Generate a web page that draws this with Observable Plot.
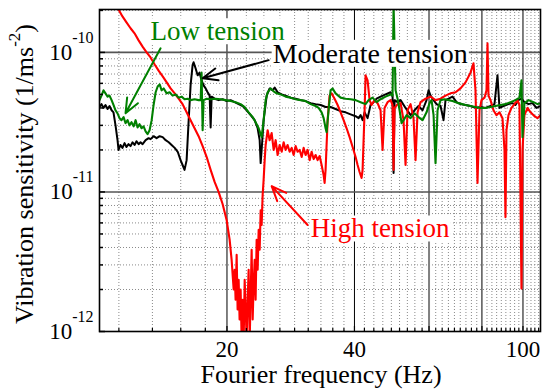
<!DOCTYPE html>
<html><head><meta charset="utf-8">
<script src="https://cdn.jsdelivr.net/npm/d3@7"></script>
<script src="https://cdn.jsdelivr.net/npm/@observablehq/plot@0.6"></script>
<style>
html,body{margin:0;padding:0;background:#fff;}
#chart svg, #chart svg text, #chart svg tspan { font-family: "Liberation Serif", "Times New Roman", serif !important; }
</style>
</head><body><div id="chart"></div>
<script>
// ---- Moderate tension (black) ----
const moderateFreq = [10.0,10.11,10.22,10.33,10.45,10.56,10.68,10.79,10.91,11.03,
11.09,11.21,11.33,11.46,11.58,11.71,11.84,11.97,12.10,12.23,
12.37,12.50,12.64,12.85,13.06,13.20,13.42,13.64,13.87,14.10,
14.33,14.57,14.80,15.05,15.30,15.54,15.71,15.88,16.06,16.24,
16.41,16.59,16.68,16.86,17.05,17.23,17.42,17.61,17.81,18.00,
18.20,18.30,18.40,18.70,19.11,19.53,19.96,20.40,20.85,21.31,
21.78,22.26,22.75,23.25,23.63,23.89,24.02,24.15,24.41,24.82,
25.22,25.64,25.92,26.34,26.93,27.51,28.27,29.05,29.85,30.67,
31.52,32.38,33.28,34.19,35.13,36.10,37.10,38.12,39.17,40.25,
40.91,41.36,41.81,42.27,42.96,43.66,44.38,45.11,46.10,47.37,
48.68,49.21,49.48,49.75,50.57,51.40,52.81,54.27,55.45,56.67,
57.93,59.20,59.85,60.50,61.50,62.50,63.88,64.93,65.63,66.73,
68.18,69.68,71.21,73.17,75.18,77.25,79.38,81.57,83.81,85.65,
87.06,88.0,89.95,92.43,94.45,96.0,97.59,99.19,100.8,103.1,
105.3,107.6,110];
const moderateVal = [4.06e-11,4.26e-11,4.0e-11,4.2e-11,3.93e-11,4.13e-11,3.85e-11,3.72e-11,3.0e-11,2.35e-11,
2.0e-11,2.17e-11,2.07e-11,2.24e-11,2.1e-11,2.2e-11,2.13e-11,2.27e-11,2.17e-11,2.31e-11,
2.2e-11,2.27e-11,2.2e-11,2.35e-11,2.43e-11,2.39e-11,2.51e-11,2.43e-11,2.51e-11,2.47e-11,
2.35e-11,2.27e-11,2.17e-11,2.07e-11,1.94e-11,1.69e-11,1.56e-11,1.44e-11,1.69e-11,3.27e-11,
5.8e-11,8.1e-11,8.5e-11,7.7e-11,6.85e-11,7.16e-11,6.3e-11,5.8e-11,5.52e-11,5.18e-11,
4.9e-11,2.9e-11,4.82e-11,4.66e-11,4.55e-11,4.62e-11,4.48e-11,4.55e-11,4.4e-11,4.26e-11,
4.13e-11,3.85e-11,3.55e-11,3.27e-11,2.86e-11,2.35e-11,1.61e-11,2.0e-11,3.27e-11,4.9e-11,
5.52e-11,5.35e-11,5.6e-11,5.18e-11,5.0e-11,4.9e-11,4.74e-11,4.66e-11,4.55e-11,4.48e-11,
4.33e-11,4.26e-11,4.2e-11,4.06e-11,4.06e-11,3.93e-11,3.79e-11,3.72e-11,3.6e-11,3.49e-11,
3.38e-11,3.55e-11,3.27e-11,3.72e-11,3.38e-11,4.2e-11,4.4e-11,4.66e-11,4.82e-11,5.0e-11,
5.18e-11,4.9e-11,1.37e-11,4.55e-11,4.4e-11,4.55e-11,4.0e-11,3.55e-11,3.85e-11,4.13e-11,
3.85e-11,4.55e-11,5.35e-11,4.9e-11,4.55e-11,4.26e-11,4.13e-11,3.27e-11,4.55e-11,4.66e-11,
4.82e-11,4.4e-11,4.26e-11,4.2e-11,4.13e-11,4.0e-11,4.06e-11,4.0e-11,4.13e-11,4.26e-11,
6.85e-11,4.0e-11,4.13e-11,4.26e-11,4.33e-11,4.2e-11,4.55e-11,4.66e-11,4.4e-11,4.26e-11,
4.33e-11,4.0e-11,4.13e-11];

// ---- Low tension (green) ----
const lowFreq = [10.0,10.11,10.22,10.33,10.45,10.56,10.68,10.79,10.91,11.03,
11.15,11.27,11.40,11.52,11.65,11.77,11.90,12.04,12.17,12.30,
12.43,12.57,12.71,12.85,12.99,13.13,13.28,13.42,13.57,13.72,
13.87,14.02,14.18,14.41,14.64,14.88,15.13,15.38,15.63,15.88,
16.15,16.41,16.77,17.14,17.33,17.42,17.52,17.61,17.91,18.30,
18.80,19.32,19.85,20.40,20.96,21.54,22.02,22.50,23.0,23.37,
23.76,24.15,24.41,24.68,24.95,25.36,25.78,26.20,26.78,27.51,
28.27,29.05,29.85,30.67,31.52,32.38,32.92,33.46,33.83,34.19,
34.38,34.75,35.13,35.52,36.10,37.10,38.12,39.17,40.25,41.36,
42.49,43.19,44.14,45.11,46.10,47.37,48.68,49.21,49.48,50.02,
50.57,51.12,51.68,52.24,53.1,54.27,55.45,56.67,57.93,59.20,
60.17,60.83,61.50,62.16,62.85,63.88,65.28,66.73,68.18,70.44,
73.17,75.18,77.25,79.38,81.57,83.81,86.12,88.49,90.93,93.43,
96.0,98.11,99.19,99.73,100.8,103.1,105.9,108.2,110];
const lowVal = [4.55e-11,4.9e-11,5.35e-11,5.09e-11,4.82e-11,4.9e-11,4.55e-11,4.2e-11,3.85e-11,3.66e-11,
3.38e-11,3.27e-11,3.44e-11,3.11e-11,3.27e-11,3.0e-11,3.16e-11,2.95e-11,3.27e-11,2.9e-11,
3.06e-11,2.86e-11,2.95e-11,2.72e-11,2.6e-11,2.77e-11,3.27e-11,4.2e-11,5.18e-11,5.7e-11,
5.9e-11,5.35e-11,5.52e-11,5.09e-11,5.18e-11,4.9e-11,5.0e-11,4.74e-11,4.82e-11,4.62e-11,
4.66e-11,4.55e-11,4.62e-11,4.55e-11,4.55e-11,7.16e-11,2.77e-11,4.55e-11,4.66e-11,4.62e-11,
4.66e-11,4.62e-11,4.55e-11,4.48e-11,4.4e-11,4.26e-11,4.06e-11,3.72e-11,3.44e-11,3.16e-11,
2.86e-11,2.47e-11,3.27e-11,4.55e-11,5.18e-11,5.52e-11,5.26e-11,5.09e-11,5.0e-11,4.82e-11,
4.74e-11,4.62e-11,4.55e-11,4.48e-11,4.26e-11,4.13e-11,4.0e-11,3.72e-11,3.38e-11,2.86e-11,
2.68e-11,3.85e-11,5.35e-11,5.52e-11,5.09e-11,4.74e-11,4.66e-11,4.62e-11,4.55e-11,4.4e-11,
4.26e-11,4.55e-11,4.74e-11,4.4e-11,4.62e-11,4.82e-11,5.0e-11,4.9e-11,2.2e-10,5.35e-11,
4.66e-11,3.85e-11,3.11e-11,3.27e-11,3.55e-11,3.38e-11,3.66e-11,3.44e-11,3.27e-11,3.72e-11,
4.33e-11,4.55e-11,3.55e-11,1.61e-11,3.85e-11,4.55e-11,4.62e-11,4.55e-11,4.48e-11,4.33e-11,
4.2e-11,4.13e-11,4.06e-11,4.0e-11,4.0e-11,4.06e-11,4.13e-11,4.2e-11,4.26e-11,4.4e-11,
4.55e-11,4.74e-11,6.3e-11,2.47e-11,4.33e-11,4.55e-11,4.4e-11,4.26e-11,4.33e-11];

// ---- High tension (red) ----
const highFreq = [10.85,11.09,11.33,11.58,11.84,12.10,12.37,12.64,12.92,13.20,
13.50,13.79,14.10,14.41,14.72,15.05,15.38,15.71,16.06,16.41,
16.77,17.14,17.52,17.91,18.30,18.70,19.11,19.53,19.96,20.29,
20.51,20.74,20.85,20.96,21.08,21.19,21.31,21.42,21.54,21.66,
21.78,21.90,22.02,22.14,22.26,22.38,22.50,22.63,22.75,22.87,
23.0,23.12,23.25,23.37,23.50,23.63,23.76,23.89,24.02,24.15,
24.28,24.41,24.55,24.68,24.95,25.22,25.50,25.78,26.06,26.34,
26.63,26.93,27.22,27.51,27.81,28.12,28.43,28.74,29.05,29.37,
29.69,30.02,30.34,30.67,31.01,31.35,31.69,32.04,32.38,32.74,
33.10,33.46,33.83,34.01,34.19,34.57,34.94,35.32,35.90,36.50,
37.10,37.71,38.33,38.96,39.60,40.25,40.69,41.13,41.58,41.81,
42.27,42.49,42.96,43.43,43.90,44.62,45.36,46.10,46.61,47.11,
47.89,48.68,49.21,49.48,49.75,50.57,51.40,52.24,52.81,53.39,
54.27,55.15,55.76,56.37,57.30,58.88,60.50,62.16,63.88,65.63,
67.44,69.30,71.21,73.17,75.18,76.41,77.25,78.1,78.95,79.81,
81.13,82.01,82.46,82.91,83.81,85.19,86.59,88.0,89.46,90.44,
90.93,91.43,92.43,93.95,95.48,97.06,98.11,99.19,99.73,100.8,
102.5,104.2,106.5,108.2,110];
const highVal = [2.35e-10,2.03e-10,1.81e-10,1.64e-10,1.49e-10,1.37e-10,1.22e-10,1.10e-10,1.0e-10,9.2e-11,
8.2e-11,7.4e-11,6.74e-11,6.1e-11,5.52e-11,5.09e-11,4.66e-11,4.26e-11,3.72e-11,3.27e-11,
2.86e-11,2.51e-11,2.13e-11,1.78e-11,1.44e-11,1.18e-11,1.0e-11,8.2e-12,6.3e-12,4.55e-12,
3.27e-12,2.0e-12,2.77e-12,1.69e-12,3.55e-12,1.44e-12,2.35e-12,1.22e-12,2.0e-12,8.7e-13,
1.69e-12,8.7e-13,2.35e-12,1.44e-12,8.7e-13,1.69e-12,2.77e-12,8.7e-13,1.84e-12,3.85e-12,
1.22e-12,2.17e-12,3.27e-12,1.69e-12,4.55e-12,2.77e-12,5.35e-12,3.85e-12,7.4e-12,5.8e-12,
9.5e-12,1.22e-11,1.69e-11,2.17e-11,2.77e-11,2.35e-11,2.64e-11,2.0e-11,2.35e-11,1.84e-11,
2.17e-11,1.94e-11,2.27e-11,2.0e-11,2.17e-11,1.94e-11,2.07e-11,1.84e-11,2.13e-11,1.94e-11,
2.0e-11,1.78e-11,2.07e-11,1.84e-11,2.0e-11,1.69e-11,1.94e-11,1.72e-11,1.84e-11,1.69e-11,
1.81e-11,1.56e-11,1.32e-11,1.16e-11,1.44e-11,3.27e-11,4.9e-11,5.09e-11,4.66e-11,4.2e-11,
3.72e-11,3.27e-11,2.86e-11,2.47e-11,2.1e-11,1.78e-11,1.56e-11,1.39e-11,1.26e-11,1.44e-11,
3.85e-11,6.85e-11,6.3e-11,4.55e-11,4.2e-11,4.55e-11,4.33e-11,3.85e-11,2.0e-11,4.0e-11,
4.4e-11,4.55e-11,4.2e-11,1.44e-11,4.0e-11,4.26e-11,4.33e-11,3.27e-11,1.56e-11,3.85e-11,
4.26e-11,3.38e-11,1.69e-11,3.72e-11,4.4e-11,4.66e-11,4.82e-11,4.55e-11,4.66e-11,4.9e-11,
5.09e-11,5.18e-11,5.52e-11,6.1e-11,7.16e-11,8.35e-11,5.35e-11,1.16e-11,3.85e-11,4.55e-11,
4.74e-11,5.35e-11,1.16e-10,4.9e-11,4.55e-11,3.85e-11,3.55e-11,3.72e-11,3.38e-11,2.0e-11,
6.6e-12,2.77e-11,3.55e-11,4.0e-11,4.26e-11,4.55e-11,4.2e-11,2.03e-12,2.0e-11,3.55e-11,
4.0e-11,3.72e-11,3.49e-11,3.38e-11,3.55e-11];

// ---- annotations ----
const labelText = ["Low tension", "Moderate tension", "High tension"];
const labelFreq = [13.2, 25.64, 31.52];
const labelVal = [1.41e-10, 9.76e-11, 5.44e-12];
const labelColor = ["#008000", "#000000", "#ff0000"];
const labelSize = [27, 28, 27];
const arrowFromFreq = [13.94, 25.09, 31.01];
const arrowFromVal = [1.07e-10, 8.8e-11, 5.8e-12];
const arrowToFreq = [11.52, 17.52, 25.5];
const arrowToVal = [3.66e-11, 6.52e-11, 1.1e-11];

// ---- ticks ----
const xMajorTicks = [20, 40, 60, 80, 100];
const xMajorLines = [20, 40, 80, 100];
const xGrayLine = [60];
const xMinorTicks = d3.range(5, 50).filter(k => k % 9 !== 0).map(k => k * 20 / 9);
const yMajorTicks = [1e-12, 1e-11, 1e-10];
const yMinorTicks = [1e-12, 1e-11, 1e-10].flatMap(d => [2,3,4,5,6,7,8,9].map(m => m * d)).filter(v => v <= 2.03e-10);

const rows = (f, v) => f.map((x, i) => ({f: x, v: v[i]}));
const moderate = rows(moderateFreq, moderateVal);
const low = rows(lowFreq, lowVal);
const high = rows(highFreq, highVal);
const labels = labelText.map((t, i) => ({t, f: labelFreq[i], v: labelVal[i], c: labelColor[i], s: labelSize[i]}));
const arrows = arrowFromFreq.map((f, i) => ({x1: f, y1: arrowFromVal[i], x2: arrowToFreq[i], y2: arrowToVal[i], c: labelColor[i]}));

const FONT = "'Liberation Serif', 'Times New Roman', serif";
const plot = Plot.plot({
  width: 542, height: 389,
  marginLeft: 99, marginRight: 2, marginTop: 9, marginBottom: 58,
  style: {fontFamily: FONT, fontSize: "23px", background: "white", color: "black"},
  x: {type: "log", domain: [10, 110]},
  y: {type: "log", domain: [1e-12, 2.03e-10]},
  color: {type: "identity"},
  marks: [
    Plot.gridX(xMinorTicks, {stroke: "#8a8a8a", strokeOpacity: 1, strokeDasharray: "1,2"}),
    Plot.gridY(yMinorTicks, {stroke: "#8a8a8a", strokeOpacity: 1, strokeDasharray: "1,2"}),
    Plot.ruleX(xMajorLines, {stroke: "#000", strokeWidth: 1}),
    Plot.ruleX(xGrayLine, {stroke: "#808080", strokeWidth: 2}),
    Plot.ruleY(yMajorTicks.slice(1), {stroke: "#555", strokeWidth: 1.6}),
    Plot.line(moderate, {x: "f", y: "v", stroke: "#000", strokeWidth: 2, clip: true}),
    Plot.line(high, {x: "f", y: "v", stroke: "#ff0000", strokeWidth: 2.1, clip: true}),
    Plot.line(low, {x: "f", y: "v", stroke: "#008000", strokeWidth: 2.1, clip: true}),
    Plot.text(labels, {x: "f", y: "v", text: "t", fill: "c", fontSize: "s", textAnchor: "start", fontFamily: FONT}),
    Plot.arrow(arrows, {x1: "x1", y1: "y1", x2: "x2", y2: "y2", stroke: "c", strokeWidth: 2, headLength: 12, headAngle: 45}),
    Plot.axisX(xMinorTicks, {tickSize: -3, tickFormat: () => "", label: null, strokeWidth: 1.2}),
    Plot.axisX(xMajorTicks, {tickSize: -5, tickPadding: 14, fontSize: 23, label: null, strokeWidth: 1.2, fontFamily: FONT}),
    Plot.axisY(yMinorTicks, {tickSize: -4, tickFormat: () => "", label: null, strokeWidth: 1.5}),
    Plot.axisY(yMajorTicks, {tickSize: -6, tickPadding: 12, fontSize: 23, label: null, strokeWidth: 1.5, fontFamily: FONT,
      tickFormat: d => "10^" + Math.round(Math.log10(d))}),
    Plot.frame({stroke: "#000", strokeWidth: 1.6})
  ]
});
document.getElementById("chart").append(plot);
const svg = d3.select(plot.tagName.toLowerCase() === "svg" ? plot : plot.querySelector("svg"));
svg.attr("font-family", FONT).style("font-family", FONT);

// superscript exponents on y tick labels
svg.selectAll('g[aria-label="y-axis tick label"] text').each(function () {
  const t = this.textContent;
  if (!t.includes("^")) return;
  const [b, e] = t.split("^");
  const el = d3.select(this);
  el.text(null);
  el.append("tspan").text(b);
  el.append("tspan").attr("font-size", 16).attr("dy", -17).text(e);
});

// white boxes behind annotation labels
svg.selectAll('g[aria-label="text"] text').each(function () {
  const bb = this.getBBox();
  const r = document.createElementNS("http://www.w3.org/2000/svg", "rect");
  r.setAttribute("x", bb.x - 1); r.setAttribute("y", bb.y + 2);
  r.setAttribute("width", bb.width + 2); r.setAttribute("height", bb.height - 4);
  r.setAttribute("fill", "white");
  const tr = this.getAttribute("transform");
  if (tr) r.setAttribute("transform", tr);
  this.parentNode.insertBefore(r, this);
});

// axis titles
svg.append("text").attr("x", 321).attr("y", 383).attr("text-anchor", "middle")
  .attr("font-size", 26).attr("fill", "black").attr("font-family", FONT).text("Fourier frequency (Hz)");
const yl = svg.append("text").attr("transform", "translate(33,174) rotate(-90)")
  .attr("text-anchor", "middle").attr("font-size", 26).attr("fill", "black").attr("font-family", FONT);
yl.append("tspan").text("Vibration sensitivity (1/ms");
yl.append("tspan").attr("font-size", 17).attr("dy", -13).text("-2");
yl.append("tspan").attr("dy", 13).text(")");
</script>
</body></html>
